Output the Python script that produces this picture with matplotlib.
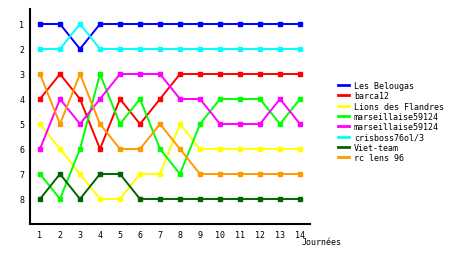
import matplotlib
matplotlib.use("Agg")
import matplotlib.pyplot as plt

journees = list(range(1, 15))
teams = ["Les Belougas", "barca12", "Lions des Flandres", "marseillaise59124",
         "marseillaise59124", "crisboss76ol/3", "Viet-team", "rc lens 96"]
colors = ["#0000ff", "#ff0000", "#ffff00", "#00ff00", "#ff00ff", "#00ffff", "#006400", "#ff9900"]

belougas = [1, 1, 2, 1, 1, 1, 1, 1, 1, 1, 1, 1, 1, 1]
barca = [4, 3, 4, 6, 4, 5, 4, 3, 3, 3, 3, 3, 3, 3]
lions = [5, 6, 7, 8, 8, 7, 7, 5, 6, 6, 6, 6, 6, 6]
marseille_g = [7, 8, 6, 3, 5, 4, 6, 7, 5, 4, 4, 4, 5, 4]
marseille_m = [6, 4, 5, 4, 3, 3, 3, 4, 4, 5, 5, 5, 4, 5]
crisboss = [2, 2, 1, 2, 2, 2, 2, 2, 2, 2, 2, 2, 2, 2]
viet = [8, 7, 8, 7, 7, 8, 8, 8, 8, 8, 8, 8, 8, 8]
lens = [3, 5, 3, 5, 6, 6, 5, 6, 7, 7, 7, 7, 7, 7]
series = [belougas, barca, lions, marseille_g, marseille_m, crisboss, viet, lens]

plt.rcParams['font.family'] = ['DejaVu Sans Mono']
fig = plt.figure(figsize=(4.6, 2.55), dpi=100)
ax = fig.add_axes([30/460, 30/255, 280/460, 215/255])
for name, vals, c in zip(teams, series, colors):
    ax.plot(journees, vals, color=c, lw=1.4, marker='s', markersize=2.5, label=name)

ax.set_xlim(0.5, 14.5)
ax.set_ylim(9, 0.4)
ax.set_xticks(journees)
ax.set_yticks(range(1, 9))
ax.tick_params(length=0, labelsize=6, pad=4)
for s in ['top', 'right']:
    ax.spines[s].set_visible(False)
for s in ['left', 'bottom']:
    ax.spines[s].set_linewidth(1.5)
fig.text(302/460, 1 - 243/255, "Journées", fontsize=6, ha='left', va='center')

leg = fig.legend(loc='upper left', bbox_to_anchor=(338/460, 1 - 82/255), frameon=False,
                 fontsize=6, handlelength=1.3, handletextpad=0.6, labelspacing=0.16,
                 borderaxespad=0, borderpad=0)
for h in leg.legend_handles:
    h.set_marker('')
    h.set_linewidth(2)
fig.savefig("out.png", dpi=100)
